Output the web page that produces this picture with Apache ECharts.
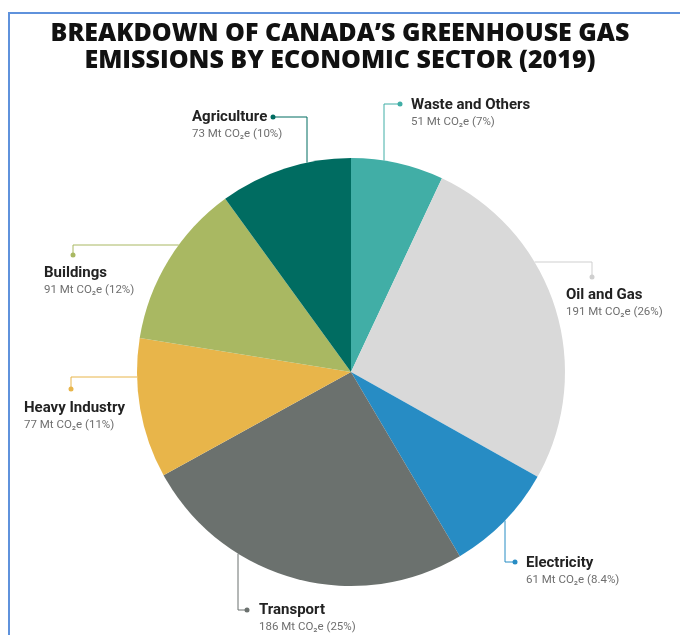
<!DOCTYPE html>
<html>
<head>
<meta charset="utf-8">
<script src="https://cdn.jsdelivr.net/npm/echarts@6/dist/echarts.min.js"></script>
<style>
  html, body { margin: 0; padding: 0; background: #fff; }
  #wrap { position: relative; width: 680px; height: 635px; overflow: hidden; }
  #frame { position: absolute; left: 8px; top: 12px; width: 700px; height: 700px;
           border-left: 2px solid #5f92dc; border-top: 2px solid #5f92dc; }
  #chart { position: absolute; left: 0; top: 0; width: 680px; height: 635px; }
</style>
</head>
<body>
<div id="wrap">
  <div id="frame"></div>
  <div id="chart"></div>
</div>
<script>
// data, clockwise from 12 o'clock
const sectors = ['Waste and Others', 'Oil and Gas', 'Electricity', 'Transport', 'Heavy Industry', 'Buildings', 'Agriculture'];
const emissions = [51, 191, 61, 186, 77, 91, 73]; // Mt CO2e
const shareLabels = ['7%', '26%', '8.4%', '25%', '11%', '12%', '10%'];
const colors = ['#41aea6', '#d9d9d9', '#278cc4', '#6b716e', '#e8b54a', '#a9b862', '#006c61'];

// pie geometry (px)
const CX = 351, CY = 372, R = 214;

// label / leader placement: text top-left, leader (vertical at x or horizontal at y), corner, dot
const labelSpots = [
  { tx: 411, ty: 96,  vx: 384, corner: [384, 104], dot: [400, 104], lineColor: '#41aea6' },
  { tx: 566, ty: 286, hy: 262, corner: [592, 262], dot: [592, 277], lineColor: '#cfcfcf' },
  { tx: 526, ty: 554, vx: 505, corner: [505, 562], dot: [515, 562], lineColor: '#278cc4' },
  { tx: 259, ty: 601, vx: 238, corner: [238, 610], dot: [247, 610], lineColor: '#6b716e' },
  { tx: 24,  ty: 399, hy: 377, corner: [71, 377],  dot: [71, 389],  lineColor: '#e8b54a' },
  { tx: 44,  ty: 264, hy: 245, corner: [73, 245],  dot: [73, 255],  lineColor: '#a9b862' },
  { tx: 192, ty: 108, vx: 307, corner: [307, 117], dot: [273, 117], lineColor: '#006c61' }
];

function edgePoint(s) {
  if (s.vx !== undefined) {
    const dx = s.vx - CX;
    const dy = Math.sqrt(R * R - dx * dx);
    return [s.vx, s.corner[1] < CY ? CY - dy : CY + dy];
  }
  const dy = s.hy - CY;
  const dx = Math.sqrt(R * R - dy * dy);
  return [s.corner[0] < CX ? CX - dx : CX + dx, s.hy];
}

const chart = echarts.init(document.getElementById('chart'));

const option = {
  animation: false,
  title: {
    text: 'BREAKDOWN OF CANADA\u2019S GREENHOUSE GAS\nEMISSIONS BY ECONOMIC SECTOR (2019)',
    left: 'center',
    top: 15,
    textStyle: {
      fontFamily: 'Open Sans',
      fontSize: 25,
      fontWeight: 800,
      color: '#111',
      lineHeight: 27
    }
  },
  graphic: labelSpots.map(s => ({
    type: 'circle',
    shape: { cx: s.dot[0], cy: s.dot[1], r: 2.5 },
    style: { fill: s.lineColor },
    z: 10
  })),
  series: [
    {
      type: 'pie',
      center: [CX, CY],
      radius: R,
      startAngle: 90,
      clockwise: true,
      avoidLabelOverlap: false,
      data: sectors.map((name, i) => ({
        name: name,
        value: emissions[i],
        itemStyle: { color: colors[i] },
        labelLine: { lineStyle: { color: labelSpots[i].lineColor } }
      })),
      label: {
        show: true,
        formatter: p => '{n|' + p.name + '}\n{s|' + p.value + ' Mt CO\u2082e (' + shareLabels[p.dataIndex] + ')}',
        rich: {
          n: { fontFamily: 'Roboto', fontSize: 15, fontWeight: 'bold', color: '#222', lineHeight: 18 },
          s: { fontFamily: 'Roboto', fontSize: 11.5, color: '#6f6f6f', lineHeight: 17 }
        }
      },
      labelLine: { show: true, lineStyle: { width: 1 } },
      labelLayout: params => {
        const s = labelSpots[params.dataIndex];
        return {
          x: s.tx,
          y: s.ty,
          align: 'left',
          verticalAlign: 'top',
          labelLinePoints: [edgePoint(s), s.corner, s.dot]
        };
      }
    }
  ]
};

chart.setOption(option);
</script>
</body>
</html>
